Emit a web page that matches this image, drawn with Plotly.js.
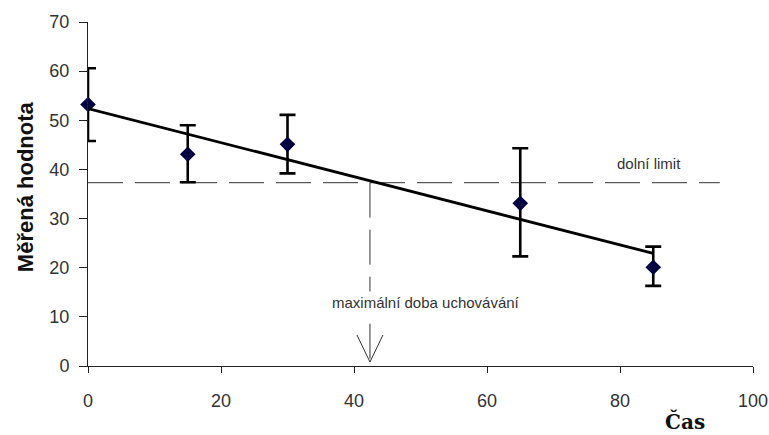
<!DOCTYPE html>
<html>
<head>
<meta charset="utf-8">
<script src="https://cdn.plot.ly/plotly-3.0.1.min.js"></script>
<style>html,body{margin:0;padding:0;background:#fff;}#chart{width:769px;height:435px;}</style>
</head>
<body>
<div id="chart"></div>
<script>
// Data
const time = [0, 15, 30, 65, 85];
const measured = [53.2, 43.1, 45.1, 33.1, 20.1];
const errUpper = [7.4, 5.9, 6.0, 11.2, 4.2];
const errLower = [7.4, 5.7, 5.9, 10.8, 3.8];

const trendX = [0, 85];
const trendY = [52.4, 22.9];

const limitValue = 37.3;
const limitX = [0, 95];
const maxTime = 42.4;

const xTicks = [0, 20, 40, 60, 80, 100];
const yTicks = [0, 10, 20, 30, 40, 50, 60, 70];

const labelLimit = 'dolní limit';
const labelMaxTime = 'maximální doba uchovávání';
const xTitle = 'Čas';
const yTitle = 'Měřená hodnota';

const axisColor = '#222';
const textColor = '#333';
const baseFont = {family: 'Liberation Sans, Arial, sans-serif', size: 18, color: textColor};

const traces = [
  {
    x: limitX, y: [limitValue, limitValue],
    mode: 'lines', type: 'scatter', hoverinfo: 'skip',
    line: {color: '#333', width: 1, dash: '35px,12px'}
  },
  {
    x: [maxTime, maxTime], y: [limitValue, 0],
    mode: 'lines', type: 'scatter', hoverinfo: 'skip',
    line: {color: '#333', width: 1, dash: '35px,12px'}
  },
  {
    x: time, y: measured, type: 'scatter', mode: 'markers', cliponaxis: false,
    marker: {symbol: 'diamond', size: 12, color: '#000040'},
    error_y: {type: 'data', symmetric: false, array: errUpper, arrayminus: errLower,
              color: '#000', thickness: 2.6, width: 8}
  },
  {
    x: trendX, y: trendY, type: 'scatter', mode: 'lines', cliponaxis: false,
    line: {color: '#000', width: 2.8}
  }
];

const layout = {
  width: 769, height: 435,
  margin: {l: 88, r: 16, t: 22, b: 69, pad: 0},
  paper_bgcolor: '#fff', plot_bgcolor: '#fff',
  showlegend: false,
  font: baseFont,
  xaxis: {
    range: [0, 100], tickvals: xTicks, ticktext: xTicks.map(String),
    showgrid: false, zeroline: false, showline: true, linecolor: axisColor, linewidth: 1,
    ticks: 'outside', ticklen: 6, tickcolor: axisColor, tickwidth: 1,
    tickfont: baseFont, ticklabelstandoff: 12
  },
  yaxis: {
    range: [0, 70], tickvals: yTicks, ticktext: yTicks.map(String),
    showgrid: false, zeroline: false, showline: true, linecolor: axisColor, linewidth: 1,
    ticks: 'outside', ticklen: 8, tickcolor: axisColor, tickwidth: 1,
    tickfont: baseFont, ticklabelstandoff: 6
  },
  shapes: [
    {
      type: 'path', xref: 'x', yref: 'y',
      xsizemode: 'pixel', ysizemode: 'pixel', xanchor: maxTime, yanchor: 0,
      path: 'M-13,31 L0,4 L13,31',
      line: {color: '#333', width: 1}
    }
  ],
  annotations: [
    {
      x: 84.4, y: 41.2, xref: 'x', yref: 'y', text: labelLimit, showarrow: false,
      xanchor: 'center', yanchor: 'middle',
      font: {family: 'Liberation Sans, Arial, sans-serif', size: 15, color: textColor}
    },
    {
      x: 50.8, y: 13.0, xref: 'x', yref: 'y', text: labelMaxTime, showarrow: false,
      xanchor: 'center', yanchor: 'middle',
      bgcolor: '#fff', borderpad: 2,
      font: {family: 'Liberation Sans, Arial, sans-serif', size: 15, color: textColor}
    },
    {
      x: 89.8, y: -0.2, xref: 'x', yref: 'paper', text: '<b>' + xTitle + '</b>', showarrow: false,
      xanchor: 'center', yanchor: 'bottom', borderpad: 0,
      font: {family: 'DejaVu Serif, serif', size: 20, color: '#111'}
    },
    {
      x: -0.0947, y: 36.4, xref: 'paper', yref: 'y', text: '<b>' + yTitle + '</b>', showarrow: false,
      textangle: -90, xanchor: 'center', yanchor: 'middle',
      font: {family: 'Liberation Sans, Arial, sans-serif', size: 22, color: '#111'}
    }
  ]
};

Plotly.newPlot('chart', traces, layout, {displayModeBar: false, staticPlot: true});
</script>
</body>
</html>
